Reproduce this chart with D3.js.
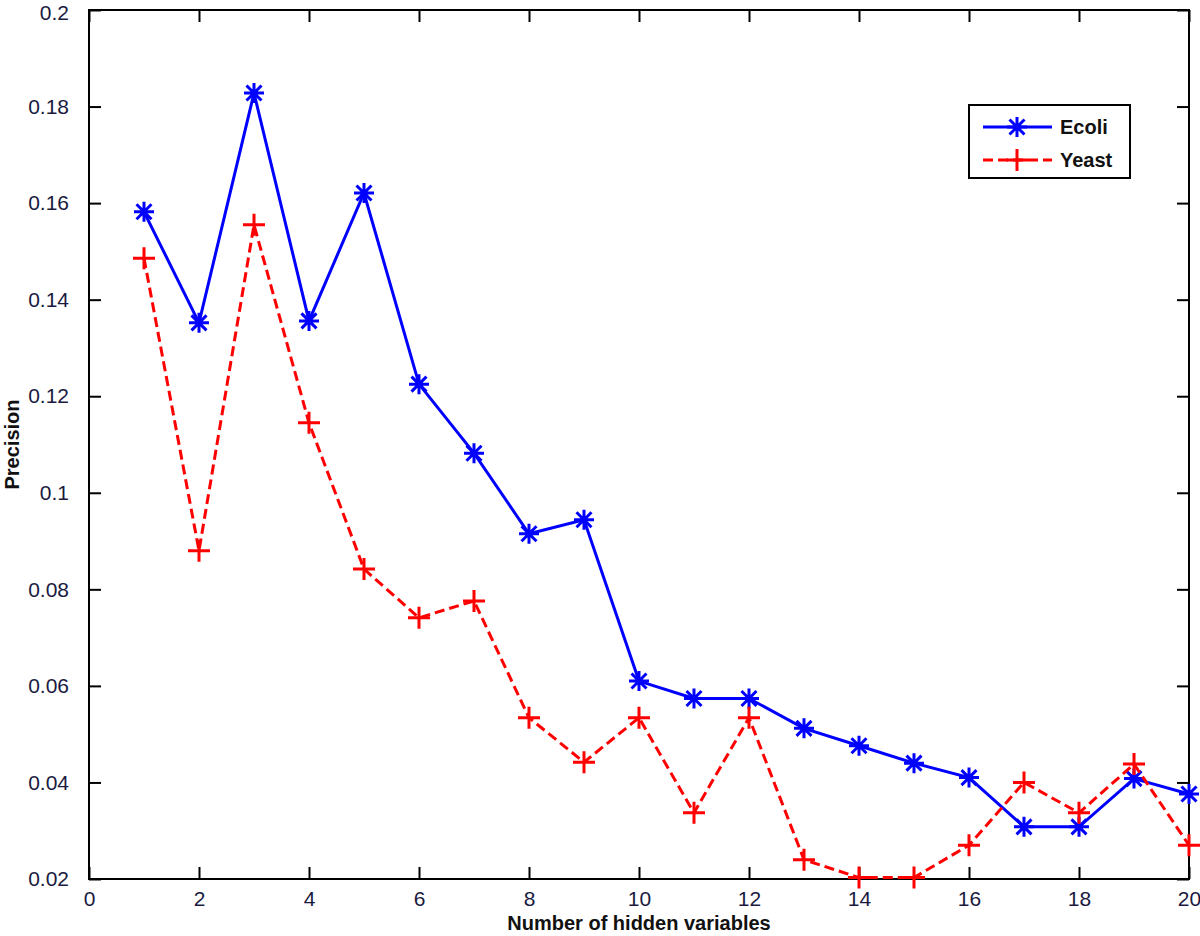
<!DOCTYPE html>
<html>
<head>
<meta charset="utf-8">
<script src="https://cdn.jsdelivr.net/npm/d3@7"></script>
<style>
body{margin:0;background:#fff;}
svg{display:block;font-family:"Liberation Sans",Arial,sans-serif;}
.tick text{fill:#1a1a40;font-size:21px;}
</style>
</head>
<body>
<script>
// data
var hidden = d3.range(1, 21);
var ecoli = [0.1582,0.1352,0.1828,0.1356,0.1621,0.1225,0.1082,0.0915,0.0944,0.0610,
             0.0574,0.0574,0.0512,0.0476,0.0440,0.0410,0.0308,0.0308,0.0408,0.0376];
var yeast = [0.1486,0.0880,0.1555,0.1145,0.0842,0.0741,0.0776,0.0534,0.0442,0.0534,
             0.0337,0.0534,0.0240,0.0203,0.0203,0.0270,0.0400,0.0337,0.0438,0.0270];
var xTicks = d3.range(0, 21, 2);
var yTicks = [0.02,0.04,0.06,0.08,0.1,0.12,0.14,0.16,0.18,0.2];

var W = 1200, H = 936;
var pL = 89, pR = 1189, pT = 10, pB = 879; //plot box edges

var svg = d3.select("body").append("svg")
	.attr("width", W)
	.attr("height", H);

var x = d3.scaleLinear().domain([0, 20]).range([pL, pR]);
var y = d3.scaleLinear().domain([0.02, 0.2]).range([pB, pT]);

//box
svg.append("rect")
	.attr("x", pL).attr("y", pT)
	.attr("width", pR - pL).attr("height", pB - pT)
	.attr("fill", "none").attr("stroke", "#000").attr("stroke-width", 2);

//axes with inward ticks
var tl = 12;
svg.append("g").attr("class", "xaxis")
	.attr("transform", "translate(0," + pB + ")")
	.call(d3.axisBottom(x).tickValues(xTicks).tickSize(-tl).tickPadding(tl).tickFormat(d3.format("d")));
var yAxis = svg.append("g").attr("class", "yaxis")
	.attr("transform", "translate(" + pL + ",0)")
	.call(d3.axisLeft(y).tickValues(yTicks).tickSize(-tl).tickPadding(tl + 8).tickFormat(function(d){ return String(+d.toFixed(2)); }));
// keep the top label (0.2) inside the page
yAxis.selectAll(".tick text").filter(function(d){ return d == 0.2; }).attr("dy", "0.45em");
// mirrored ticks top and right
svg.append("g").attr("transform", "translate(0," + pT + ")")
	.call(d3.axisTop(x).tickValues(xTicks).tickSize(-tl).tickFormat(""));
svg.append("g").attr("transform", "translate(" + pR + ",0)")
	.call(d3.axisRight(y).tickValues(yTicks).tickSize(-tl).tickFormat(""));
svg.selectAll(".domain").remove();
svg.selectAll(".tick line").attr("stroke", "#000").attr("stroke-width", 2);
svg.selectAll(".tick text").attr("font-family", "'Liberation Sans',Arial,sans-serif");

//axis titles
svg.append("text")
	.attr("x", (pL + pR) / 2).attr("y", 930)
	.attr("text-anchor", "middle")
	.attr("font-size", 20).attr("font-weight", "bold").attr("fill", "#111")
	.text("Number of hidden variables");
svg.append("text")
	.attr("transform", "translate(19," + (pT + pB) / 2 + ") rotate(-90)")
	.attr("text-anchor", "middle")
	.attr("font-size", 20).attr("font-weight", "bold").attr("fill", "#111")
	.text("Precision");

var line = d3.line()
	.x(function(d){ return x(d[0]); })
	.y(function(d){ return y(d[1]); });

var series = [
	{name: "Ecoli", color: "#0000ff", dash: null, marker: "star", vals: ecoli},
	{name: "Yeast", color: "#ff0000", dash: "10,5", marker: "plus", vals: yeast}
];

function drawMarker(g, type, cx, cy, color){
	var r = 10, p;
	if (type == "star") {
		var s = r * 0.75;
		p = "M" + (cx - r) + "," + cy + "H" + (cx + r) + "M" + cx + "," + (cy - r) + "V" + (cy + r)
		  + "M" + (cx - s) + "," + (cy - s) + "L" + (cx + s) + "," + (cy + s)
		  + "M" + (cx - s) + "," + (cy + s) + "L" + (cx + s) + "," + (cy - s);
	} else {
		p = "M" + (cx - 11) + "," + cy + "H" + (cx + 11) + "M" + cx + "," + (cy - 11) + "V" + (cy + 11);
	}
	g.append("path").attr("d", p).attr("stroke", color).attr("stroke-width", 3).attr("fill", "none");
}

series.forEach(function(s){
	var pts = hidden.map(function(h, i){ return [h, s.vals[i]]; });
	var g = svg.append("g").attr("class", "series");
	g.append("path")
		.datum(pts)
		.attr("d", line)
		.attr("fill", "none")
		.attr("stroke", s.color)
		.attr("stroke-width", 3)
		.attr("stroke-dasharray", s.dash);
	pts.forEach(function(p){
		drawMarker(g, s.marker, x(p[0]), y(p[1]), s.color);
	});
});

//legend
var lg = svg.append("g").attr("class", "legend");
lg.append("rect")
	.attr("x", 969).attr("y", 105).attr("width", 161).attr("height", 73)
	.attr("fill", "#fff").attr("stroke", "#000").attr("stroke-width", 2);
series.forEach(function(s, i){
	var ly = 127 + i * 33;
	lg.append("line")
		.attr("x1", 983).attr("x2", 1052).attr("y1", ly).attr("y2", ly)
		.attr("stroke", s.color).attr("stroke-width", 3).attr("stroke-dasharray", s.dash);
	drawMarker(lg, s.marker, 1017, ly, s.color);
	lg.append("text")
		.attr("x", 1060).attr("y", ly + 7)
		.attr("font-size", 20).attr("font-weight", "bold").attr("fill", "#111")
		.text(s.name);
});
</script>
</body>
</html>
